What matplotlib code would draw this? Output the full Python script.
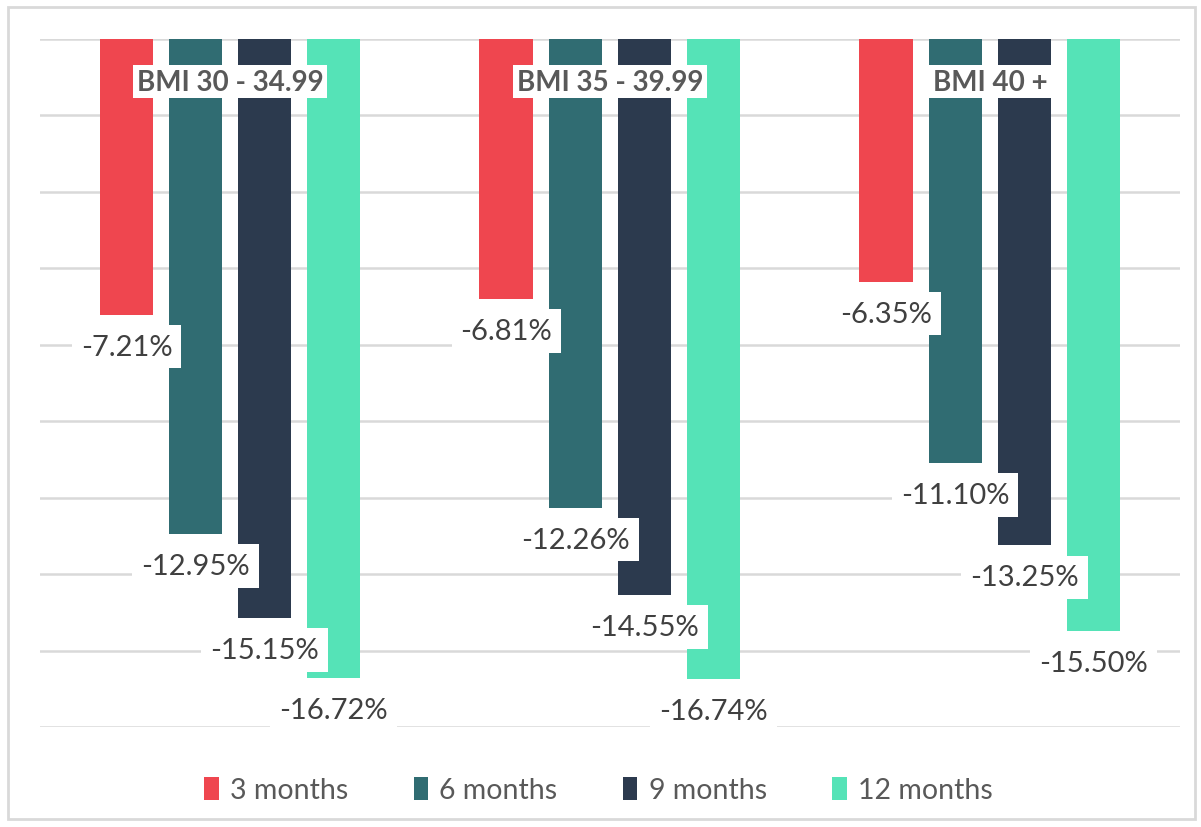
import matplotlib.pyplot as plt
import numpy as np
from matplotlib.patches import Rectangle

groups = ['BMI 30 - 34.99', 'BMI 35 - 39.99', 'BMI 40 +']
series = ['3 months', '6 months', '9 months', '12 months']
values = {
    '3 months': [-7.21, -6.81, -6.35],
    '6 months': [-12.95, -12.26, -11.10],
    '9 months': [-15.15, -14.55, -13.25],
    '12 months': [-16.72, -16.74, -15.50],
}
colors = ['#EF464F', '#306C72', '#2C3A4E', '#55E3B7']
grid_ticks = np.arange(0, -20, -2)

plt.rcParams['font.family'] = ['Lato', 'DejaVu Sans']

fig = plt.figure(figsize=(12.01, 8.28), dpi=100)
fig.patches.append(Rectangle((0.007, 0.01), 0.988, 0.98, transform=fig.transFigure,
                             fill=False, edgecolor='#D9D9D9', linewidth=2))
ax = fig.add_axes([0.0333, 0.1208, 0.9492, 0.8309])

x = np.arange(len(groups))
width = 0.142
step = 0.1816
offsets = (np.arange(len(series)) - 1.5) * step

for i, (name, color) in enumerate(zip(series, colors)):
    vals = values[name]
    ax.bar(x + offsets[i], vals, width=width, color=color, label=name, zorder=2)
    for xi, v in zip(x + offsets[i], vals):
        ax.annotate(f'{v:.2f}%', (xi, v), xytext=(0, -23), textcoords='offset points',
                    ha='center', va='center', fontsize=21, color='#404040', zorder=4,
                    bbox=dict(boxstyle='square,pad=0.3', fc='white', ec='none'))

for xi, g in zip(x, groups):
    ax.text(xi, -1.12, g, ha='center', va='center', fontsize=20, fontweight='bold',
            color='#595959', zorder=4,
            bbox=dict(boxstyle='square,pad=0.12', fc='white', ec='none'))

for t in grid_ticks:
    ax.axhline(t, color='#D9D9D9', linewidth=1.8, zorder=1)

ax.set_xlim(-0.5, 2.5)
ax.set_ylim(-18, 0)
ax.set_xticks([])
ax.set_yticks([])
for s in ax.spines.values():
    s.set_visible(False)

ax.legend(loc='upper center', bbox_to_anchor=(0.49, -0.035), ncol=4, frameon=False,
          fontsize=20.5, handlelength=0.5, handleheight=0.9, handletextpad=0.4,
          columnspacing=2.3, labelcolor='#595959')

fig.savefig('out.png', dpi=100)
